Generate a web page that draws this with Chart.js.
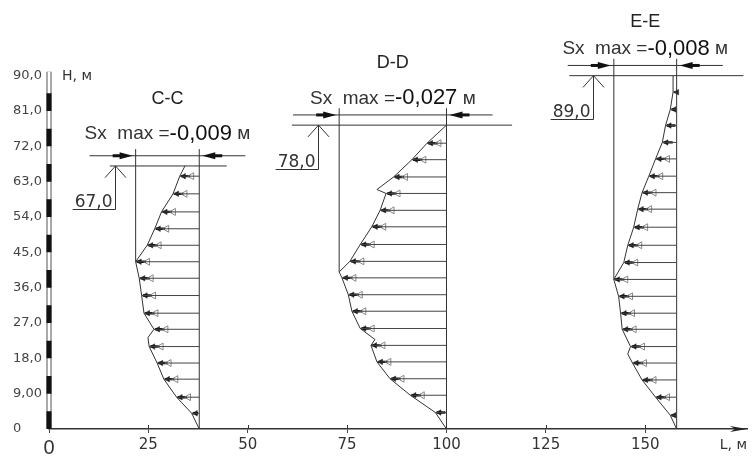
<!DOCTYPE html>
<html><head><meta charset="utf-8">
<script src="https://cdn.jsdelivr.net/npm/chart.js@4/dist/chart.umd.min.js"></script>
<style>html,body{margin:0;padding:0;background:#fff;}#wrap{width:754px;height:456px;}</style>
</head><body><div id="wrap"><canvas id="c" width="754" height="456"></canvas></div>
<script>
// ---------------- data ----------------
const sectionNames = ["C-C", "D-D", "E-E"];
const sxMaxValues = ["-0,009", "-0,027", "-0,008"];
const sxPrefix = "Sx  max =";
const sxUnit = " м";
const topLabels = ["67,0", "78,0", "89,0"];
const topH = [67, 77.4, 90];
const baseL = [37.8, 100, 157.9];

const ccCurveH = [0, 4.0, 8.1, 12.7, 16.8, 21.0, 23.3, 25.4, 29.5, 34.0, 38.4, 42.6, 46.8, 51.0, 55.3, 59.9, 64.4, 67];
const ccCurveL = [37.8, 35.9, 32.1, 28.9, 27.2, 25.2, 24.9, 26.4, 23.9, 23.3, 22.7, 21.8, 24.7, 26.6, 28.3, 31.2, 32.9, 34.2];
const ccArrowH = [4.0, 8.1, 12.7, 16.8, 21.0, 25.4, 29.5, 34.0, 38.4, 42.6, 46.8, 51.0, 55.3, 59.9, 64.4];
const ccArrowL = [35.9, 32.1, 28.9, 27.2, 25.2, 26.4, 23.9, 23.3, 22.7, 21.8, 24.7, 26.6, 28.3, 31.2, 32.9];

const ddCurveH = [0, 4.2, 8.6, 12.8, 17.1, 21.3, 22.8, 25.6, 30.0, 34.2, 38.5, 40.0, 42.7, 47.0, 51.5, 55.7, 60.0, 61.0, 64.2, 68.6, 72.8, 77.4];
const ddCurveL = [100, 97.2, 90.9, 85.8, 82.5, 81.0, 82.0, 78.3, 76.2, 75.3, 73.7, 73.0, 75.7, 78.3, 81.2, 83.3, 84.8, 82.5, 86.7, 91.3, 95.1, 100];
const ddArrowH = [4.2, 8.6, 12.8, 17.1, 21.3, 25.6, 30.0, 34.2, 38.5, 42.7, 47.0, 51.5, 55.7, 60.0, 64.2, 68.6, 72.8];
const ddArrowL = [97.2, 90.9, 85.8, 82.5, 81.0, 78.3, 76.2, 75.3, 73.7, 75.7, 78.3, 81.2, 83.3, 84.8, 86.7, 91.3, 95.1];

const eeCurveH = [0, 3.5, 8.1, 12.5, 16.8, 19.1, 21.0, 25.4, 29.5, 33.8, 38.1, 42.4, 46.8, 51.4, 56.0, 60.2, 64.4, 68.8, 73.0, 77.3, 81.4, 85.8, 90];
const eeCurveL = [157.9, 156.3, 152.6, 149.2, 146.8, 145.6, 146.3, 144.2, 143.8, 143.3, 142.1, 144.6, 145.6, 147.1, 148.1, 149.2, 150.9, 152.6, 154.3, 155.1, 156.3, 157.0, 157.0];
const eeArrowH = [3.5, 8.1, 12.5, 16.8, 21.0, 25.4, 29.5, 33.8, 38.1, 42.4, 46.8, 51.4, 56.0, 60.2, 64.4, 68.8, 73.0, 77.3, 81.4, 85.8];
const eeArrowL = [156.3, 152.6, 149.2, 146.8, 146.3, 144.2, 143.8, 143.3, 142.1, 144.6, 145.6, 147.1, 148.1, 149.2, 150.9, 152.6, 154.3, 155.1, 156.3, 157.0];

const xTickValues = [0, 25, 50, 75, 100, 125, 150];
const xTickLabels = ["0", "25", "50", "75", "100", "125", "150"];
const yTickValues = [0, 9, 18, 27, 36, 45, 54, 63, 72, 81, 90];
const yTickLabels = ["0", "9,00", "18,0", "27,0", "36,0", "45,0", "54,0", "63,0", "72,0", "81,0", "90,0"];
const xAxisName = "L, м";
const yAxisName = "H, м";
const rulerStep = 9;      // alternating ruler on the H axis
const rulerTop = 91;

// ---------------- layout / style (not data) ----------------
const DIM_GAP = 2.6, VERT_EXT = 4.3, DIM_EXT = 11.6, ARROW_OFF = 1.0, BAR_LEN = 2.6, CHEV_OFF = 3.0;
const topLineExt = [[6.5, 6.9], [11.9, 16.5], [11.2, 16.8]];
const sxGap = [22, 16.5, 16.5];
const titleGap = [35, 35, 27];
const LINE = '#333';

const sections = [
  {curveH: ccCurveH, curveL: ccCurveL, arrowH: ccArrowH, arrowL: ccArrowL},
  {curveH: ddCurveH, curveL: ddCurveL, arrowH: ddArrowH, arrowL: ddArrowL},
  {curveH: eeCurveH, curveL: eeCurveL, arrowH: eeArrowH, arrowL: eeArrowL}
];
sections.forEach((s, i) => {
  let k = 0;
  s.curveL.forEach((v, j) => { if (v < s.curveL[k]) k = j; });
  s.minL = s.curveL[k]; s.minH = s.curveH[k];
  s.base = baseL[i]; s.top = topH[i];
});

const GAP = {x: null, y: null};
function lineDs(data, color, width, order) {
  return {type: 'scatter', showLine: true, data, borderColor: color, backgroundColor: color,
          borderWidth: width, pointRadius: 0, clip: false, order: order || 0, spanGaps: false, borderCapStyle: 'butt'};
}

const datasets = [];
// ruler on H axis
datasets.push(lineDs([{x: 0, y: 0}, {x: 0, y: rulerTop}], '#555', 5, 3));
datasets.push(lineDs([{x: 0, y: 0}, {x: 0, y: rulerTop}], '#fff', 3, 2));
const rulerData = [];
for (let v = 0; v < 90; v += rulerStep) { rulerData.push({x: 0, y: v}, {x: 0, y: v + rulerStep / 2}, GAP); }
datasets.push(lineDs(rulerData, '#111', 5, 1));

sections.forEach((s) => {
  // profile curve
  datasets.push(lineDs(s.curveH.map((h, j) => ({x: s.curveL[j], y: h})), LINE, 1));
  // horizontal displacement lines
  const hd = [];
  s.arrowH.forEach((h, j) => { hd.push({x: s.arrowL[j], y: h}, {x: s.base, y: h}, GAP); });
  datasets.push(lineDs(hd, '#444', 1));
  // grey open chevrons (only where there is room before the base line)
  const base = s.base;
  datasets.push({type: 'scatter', data: s.arrowH.map((h, j) => ({x: s.arrowL[j] + CHEV_OFF, y: h})),
    pointStyle: 'triangle', rotation: 270,
    pointRadius: c => (c.raw && c.raw.x < base - 1.5) ? 4 : 0,
    backgroundColor: 'rgba(0,0,0,0)', borderColor: '#888', borderWidth: 1, clip: false});
  // black arrow bars
  const bd = [];
  s.arrowH.forEach((h, j) => { bd.push({x: s.arrowL[j] + 0.3, y: h}, {x: Math.min(s.arrowL[j] + BAR_LEN, base - 0.3), y: h}, GAP); });
  datasets.push(lineDs(bd, '#111', 2.4));
  // arrowheads
  datasets.push({type: 'scatter', data: s.arrowH.map((h, j) => ({x: s.arrowL[j] + ARROW_OFF, y: h})),
    pointStyle: 'triangle', rotation: 270, pointRadius: 3.2, backgroundColor: '#222', borderColor: '#222', borderWidth: 0.5, clip: false});
  // verticals
  datasets.push(lineDs([{x: s.base, y: 0}, {x: s.base, y: s.top + VERT_EXT}], LINE, 1));
  datasets.push(lineDs([{x: s.minL, y: s.minH}, {x: s.minL, y: s.top + VERT_EXT}], LINE, 1));
});
sections.forEach((s, i) => {
  // top-of-section line and dimension line
  datasets.push(lineDs([{x: s.minL - topLineExt[i][0], y: s.top}, {x: s.base + topLineExt[i][1], y: s.top}], LINE, 1));
  datasets.push(lineDs([{x: s.minL - DIM_EXT, y: s.top + DIM_GAP}, {x: s.base + DIM_EXT, y: s.top + DIM_GAP}], LINE, 1));
});

const annot = {
  id: 'annot',
  afterDatasetsDraw(chart) {
    const {ctx} = chart; const x = chart.scales.x, y = chart.scales.y;
    ctx.save();
    const ay = y.getPixelForValue(0);
    // axis arrow
    ctx.fillStyle = '#222'; ctx.strokeStyle = '#333'; ctx.lineWidth = 1;
    ctx.beginPath(); ctx.moveTo(x.right, ay); ctx.lineTo(x.right - 17, ay - 3); ctx.lineTo(x.right - 12, ay); ctx.lineTo(x.right - 17, ay + 3); ctx.closePath(); ctx.fill();
    // upper part of x ticks
    xTickValues.forEach(v => { if (v === 0) return; const px = Math.round(x.getPixelForValue(v)) + 0.5;
      ctx.beginPath(); ctx.moveTo(px, ay - 4); ctx.lineTo(px, ay); ctx.stroke(); });
    // axis name
    ctx.fillStyle = '#333'; ctx.font = '14px "DejaVu Sans"'; ctx.textAlign = 'left'; ctx.textBaseline = 'middle';
    ctx.fillText(yAxisName, x.getPixelForValue(0) + 13, y.getPixelForValue(90) + 1);

    sections.forEach((s, i) => {
      const lx = x.getPixelForValue(s.minL), rx = x.getPixelForValue(s.base);
      const topY = y.getPixelForValue(s.top), dimY = y.getPixelForValue(s.top + DIM_GAP);
      const cx = (lx + rx) / 2;
      // dimension arrows
      ctx.fillStyle = '#111';
      [[lx - 3, 1], [rx + 3, -1]].forEach(([tip, d]) => {
        ctx.beginPath(); ctx.moveTo(tip, dimY); ctx.lineTo(tip - d * 13, dimY - 3.5); ctx.lineTo(tip - d * 13, dimY + 3.5); ctx.closePath(); ctx.fill();
        ctx.fillRect(d > 0 ? tip - 20 : tip + 12, dimY - 1.5, 8, 3);
      });
      // level leader
      const ldx = Math.round(lx - 21) + 0.5, uy = Math.round(topY + 43.5) + 0.5;
      ctx.strokeStyle = '#333'; ctx.lineWidth = 1;
      ctx.font = '17px "DejaVu Sans"';
      const w = ctx.measureText(topLabels[i]).width;
      ctx.beginPath();
      ctx.moveTo(ldx - 10.5, topY + 11.7); ctx.lineTo(ldx, topY); ctx.lineTo(ldx + 10.5, topY + 11.7);
      ctx.moveTo(ldx, topY); ctx.lineTo(ldx, uy); ctx.lineTo(ldx - w - 5, uy);
      ctx.stroke();
      ctx.fillStyle = '#333'; ctx.textAlign = 'right'; ctx.textBaseline = 'alphabetic';
      ctx.fillText(topLabels[i], ldx - 3, uy - 3);
      // Sx max text
      const sxY = dimY - sxGap[i];
      const f1 = '19px "Liberation Sans"', f2 = '22px "Liberation Sans"';
      ctx.font = f1; const w1 = ctx.measureText(sxPrefix).width, w3 = ctx.measureText(sxUnit).width;
      ctx.font = f2; const w2 = ctx.measureText(sxMaxValues[i]).width;
      let sx = cx - (w1 + w2 + w3) / 2;
      ctx.textAlign = 'left'; ctx.textBaseline = 'middle';
      ctx.font = f1; ctx.fillStyle = '#333'; ctx.fillText(sxPrefix, sx, sxY);
      ctx.font = f2; ctx.fillStyle = '#111'; ctx.fillText(sxMaxValues[i], sx + w1, sxY);
      ctx.font = f1; ctx.fillStyle = '#333'; ctx.fillText(sxUnit, sx + w1 + w2, sxY);
      // title
      ctx.font = '18px "Liberation Sans"'; ctx.textAlign = 'center'; ctx.fillStyle = '#222';
      ctx.fillText(sectionNames[i], cx, sxY - titleGap[i]);
    });
    ctx.restore();
  }
};

new Chart(document.getElementById('c'), {
  type: 'scatter',
  data: {datasets},
  options: {
    responsive: false, animation: false, events: [],
    layout: {padding: {left: 13, right: 7, top: 0, bottom: 0}},
    plugins: {legend: {display: false}, tooltip: {enabled: false}},
    scales: {
      x: {
        type: 'linear', min: 0, max: 175.6,
        afterBuildTicks: s => { s.ticks = xTickValues.map(v => ({value: v})); },
        afterFit: s => { s.height = 27; s.paddingLeft = 0; s.paddingRight = 0; },
        ticks: {autoSkip: false, maxRotation: 0, padding: 3, color: '#333',
          font: c => (c.tick && c.tick.value === 0) ? {family: 'Liberation Sans', size: 20} : {family: 'DejaVu Sans', size: 15},
          callback: v => xTickLabels[xTickValues.indexOf(v)]},
        grid: {drawOnChartArea: false, drawTicks: true, tickLength: 4, color: '#444', lineWidth: 1},
        border: {display: true, color: '#333', width: 1.5},
        title: {display: true, text: xAxisName, align: 'end', color: '#333', font: {family: 'DejaVu Sans', size: 14}, padding: {top: 0, bottom: 2}}
      },
      y: {
        type: 'linear', min: 0, max: 108,
        afterBuildTicks: s => { s.ticks = yTickValues.map(v => ({value: v})); },
        afterFit: s => { s.width = 36; s.paddingTop = 0; s.paddingBottom = 0; },
        ticks: {crossAlign: 'far', padding: 0, color: '#444', font: {family: 'DejaVu Sans', size: 13},
          callback: v => yTickLabels[yTickValues.indexOf(v)]},
        grid: {display: false},
        border: {display: false}
      }
    }
  },
  plugins: [annot]
});
</script>
</body></html>
